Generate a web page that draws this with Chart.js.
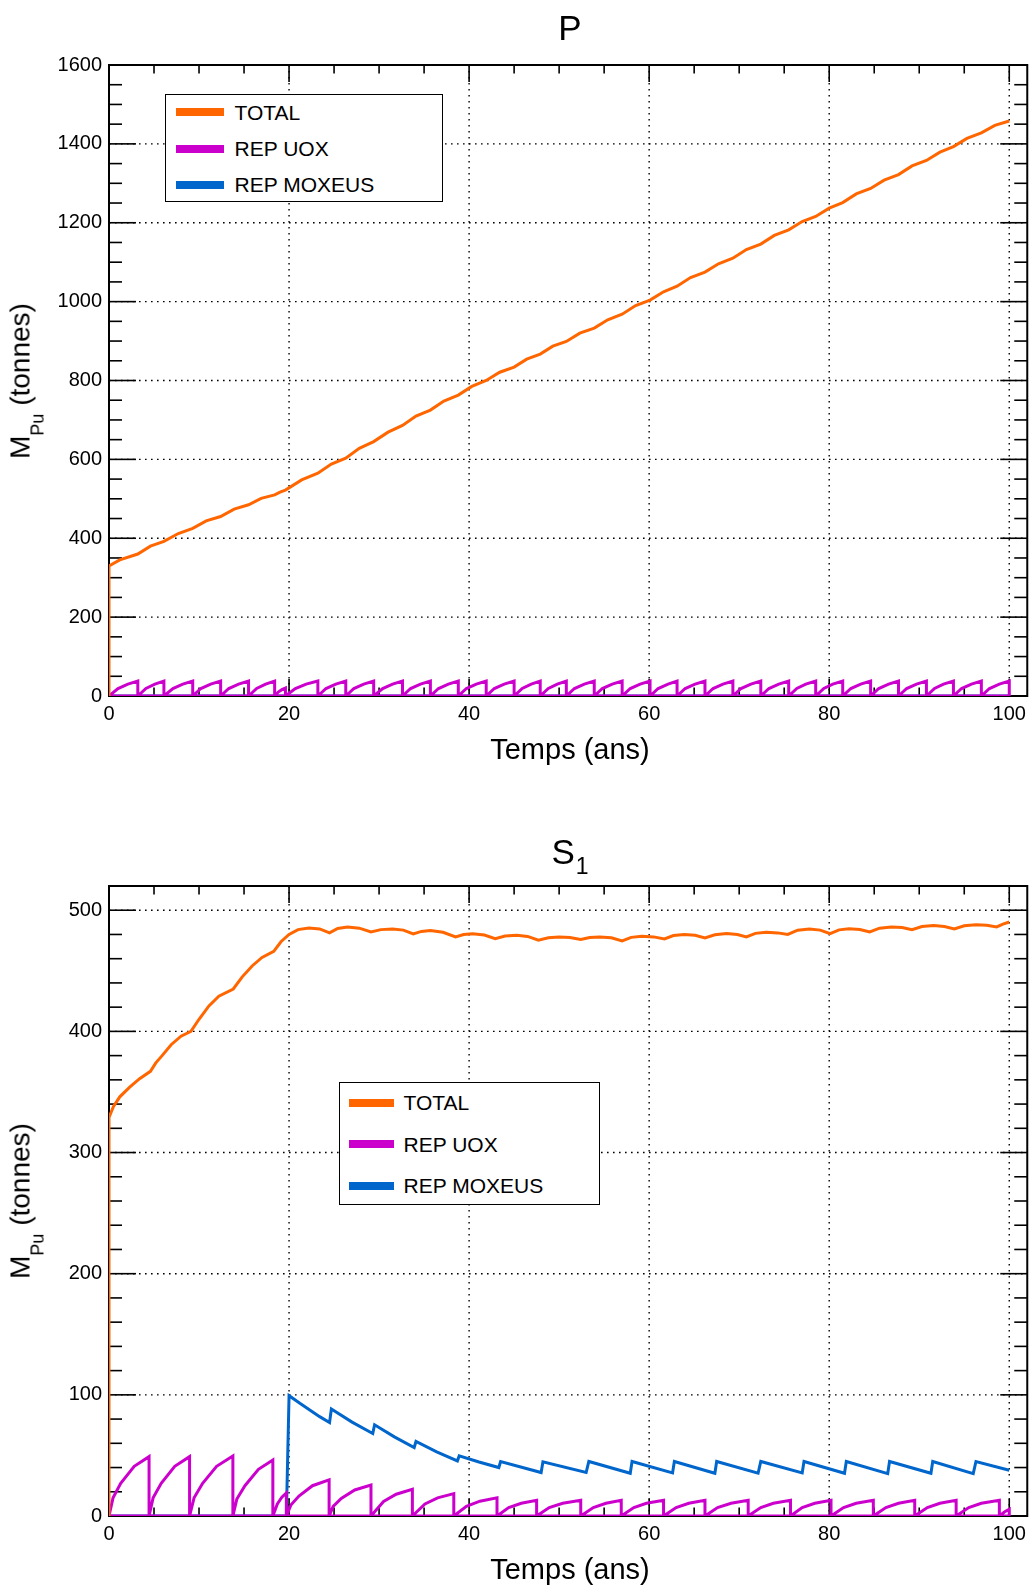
<!DOCTYPE html>
<html><head><meta charset="utf-8">
<script src="https://cdn.jsdelivr.net/npm/chart.js@4.4.1/dist/chart.umd.min.js"></script>
<style>
html,body{margin:0;padding:0;background:#fff;}
body{width:1032px;height:1586px;position:relative;overflow:hidden;font-family:"Liberation Sans",Arial,Helvetica,sans-serif;color:#000;}
canvas{position:absolute;left:0;}
.t{position:absolute;white-space:nowrap;line-height:1;}
.ctr{transform:translateX(-50%);}
.yt{font-size:28px;line-height:28px;transform:translate(-50%,-50%) rotate(-90deg);}
.yt sub{font-size:18px;vertical-align:-14px;line-height:0;}
.leg{position:absolute;border:1.5px solid #000;background:#fff;box-sizing:border-box;}
.sw{position:absolute;height:8px;}
.lt{position:absolute;font-size:21px;line-height:21px;white-space:nowrap;}
</style></head>
<body>
<canvas id="cP" width="1032" height="760" style="top:0"></canvas>
<canvas id="cS" width="1032" height="780" style="top:800px"></canvas>

<div class="t ctr" style="left:570px;top:10px;font-size:35px;">P</div>
<div class="t ctr" style="left:570px;top:834px;font-size:35px;">S<sub style="font-size:23px;vertical-align:-10px;line-height:0;margin-left:1px">1</sub></div>
<div class="t ctr" style="left:570px;top:735px;font-size:29px;">Temps (ans)</div>
<div class="t ctr" style="left:570px;top:1555px;font-size:29px;">Temps (ans)</div>
<div class="t yt" style="left:22.3px;top:380.5px;">M<sub>Pu</sub> (tonnes)</div>
<div class="t yt" style="left:22.3px;top:1201px;">M<sub>Pu</sub> (tonnes)</div>

<div class="leg" id="legP" style="left:165px;top:94px;width:278px;height:108px;"></div>
<div class="leg" id="legS" style="left:339px;top:1082px;width:261px;height:123px;"></div>

<script>
// ---------- data ----------
const seriesNames = ['TOTAL', 'REP UOX', 'REP MOXEUS'];
const seriesColors = ['#ff6600', '#cc00cc', '#0066cc'];

const xTicks = [0, 20, 40, 60, 80, 100];
const xTickLabels = ['0', '20', '40', '60', '80', '100'];
const pYTicks = [0, 200, 400, 600, 800, 1000, 1200, 1400, 1600];
const pYTickLabels = ['0', '200', '400', '600', '800', '1000', '1200', '1400', '1600'];
const sYTicks = [0, 100, 200, 300, 400, 500];
const sYTickLabels = ['0', '100', '200', '300', '400', '500'];

// Panel P : [time (ans), M_Pu (tonnes)]
const pTotal = [
[0,0],[0,330],[1.2,345],[3.2,360],[4.6,380],[6.1,392],[7.7,412],[9.3,425],[10.8,444],[12.4,455],
[13.9,474],[15.5,485],[16.9,501],[18.4,510],[19.0,517],[19.6,522],[21.4,548],[23.2,565],[24.7,588],
[26.3,603],[27.8,628],[29.4,645],[31.0,669],[32.6,686],[34.1,710],[35.7,725],[37.2,748],[38.8,763],
[40.3,785],[41.9,800],[43.4,821],[45.0,834],[46.4,854],[47.9,867],[49.3,887],[50.8,899],[52.3,920],
[53.9,933],[55.4,954],[57.0,968],[58.5,990],[60.1,1004],[61.6,1025],[63.1,1039],[64.6,1061],[66.2,1075],
[67.7,1096],[69.3,1110],[70.8,1132],[72.4,1146],[73.9,1168],[75.5,1182],[77.0,1203],[78.5,1216],
[80.0,1237],[81.5,1251],[83.0,1273],[84.6,1287],[86.1,1308],[87.7,1322],[89.2,1344],[90.8,1358],
[92.3,1379],[93.8,1393],[95.3,1414],[96.9,1428],[98.4,1447],[100,1458]
];
const pUox = [
[0,0],[1.0,19],[2.1,30],[3.2,38],[3.2,0],
[4.1,19],[5.1,30],[6.1,38],[6.1,0],
[7.1,19],[8.2,30],[9.3,38],[9.3,0],
[10.2,19],[11.3,30],[12.4,38],[12.4,0],
[13.3,19],[14.4,30],[15.5,38],[15.5,0],
[16.4,19],[17.4,30],[18.4,38],[18.4,0],
[18.8,10],[19.2,16],[19.6,20],[19.6,0],
[20.7,19],[21.9,30],[23.2,38],[23.2,0],
[24.1,19],[25.2,30],[26.3,38],[26.3,0],
[27.2,19],[28.3,30],[29.4,38],[29.4,0],
[30.4,19],[31.5,30],[32.6,38],[32.6,0],
[33.5,19],[34.6,30],[35.7,38],[35.7,0],
[36.6,19],[37.7,30],[38.8,38],[38.8,0],
[39.7,19],[40.8,30],[41.9,38],[41.9,0],
[42.8,19],[43.9,30],[45.0,38],[45.0,0],
[45.9,19],[46.9,30],[47.9,38],[47.9,0],
[48.8,19],[49.8,30],[50.8,38],[50.8,0],
[51.7,19],[52.8,30],[53.9,38],[53.9,0],
[54.8,19],[55.9,30],[57.0,38],[57.0,0],
[57.9,19],[59.0,30],[60.1,38],[60.1,0],
[61.0,19],[62.1,30],[63.1,38],[63.1,0],
[64.0,19],[65.1,30],[66.2,38],[66.2,0],
[67.1,19],[68.2,30],[69.3,38],[69.3,0],
[70.2,19],[71.3,30],[72.4,38],[72.4,0],
[73.3,19],[74.4,30],[75.5,38],[75.5,0],
[76.4,19],[77.4,30],[78.5,38],[78.5,0],
[79.4,19],[80.4,30],[81.5,38],[81.5,0],
[82.4,19],[83.5,30],[84.6,38],[84.6,0],
[85.5,19],[86.6,30],[87.7,38],[87.7,0],
[88.6,19],[89.7,30],[90.8,38],[90.8,0],
[91.7,19],[92.7,30],[93.8,38],[93.8,0],
[94.7,19],[95.8,30],[96.9,38],[96.9,0],
[97.8,19],[98.9,30],[100,38],[100,0],
[0,0]
];
const pMox = [[0,0],[100,0]];

// Panel S1
const sTotal = [
[0,0],[0,329],[0.5,338],[1.2,346],[2.3,354],[3.4,361],[4.6,367],
[5.2,374],[5.9,380],[6.9,389],[8.0,396],[9.1,400],
[10.0,410],[11.1,421],[12.2,429],[13.8,435],
[14.8,445],[15.9,454],[17.0,461],[18.3,466],
[19.1,474],[20.0,480],[21.0,484],[22.2,485.4],[23.4,484.6],[24.5,481.3],
[25.4,485.0],[26.5,486.2],[27.8,485.2],[29.1,482.1],
[30.2,484.0],[31.5,484.6],[32.7,483.6],[33.8,480.5],
[34.7,482.5],[35.7,483.2],[37.1,481.8],[38.5,478],
[39.4,479.9],[40.4,480.5],[41.7,479.5],[42.9,476.6],
[44.0,478.7],[45.3,479.4],[46.5,478.4],[47.7,475.2],
[48.8,477.3],[50.0,478],[51.2,477.4],[52.4,475.8],
[53.4,477.4],[54.5,478],[55.8,477.2],[57.0,474.7],
[58.0,477.6],[59.2,478.6],[60.5,478.0],[61.7,476.3],
[62.7,479.1],[63.9,480],[65.1,479.3],[66.2,477.2],
[67.3,479.8],[68.6,480.7],[69.8,480.0],[70.8,478],
[71.8,480.9],[73.0,481.8],[74.3,481.3],[75.4,480],
[76.5,483.5],[77.8,484.6],[79.0,483.6],[80.1,480.7],
[81.1,483.8],[82.2,484.8],[83.4,484.1],[84.5,482.1],
[85.6,485.2],[86.9,486.2],[88.1,485.7],[89.2,484],
[90.3,486.5],[91.6,487.3],[92.8,486.6],[93.9,484.6],
[95.0,487.2],[96.3,488.1],[97.5,487.6],[98.6,486.2],
[99.3,488.5],[100,490.3]
];
const sUox = [
[0,0],[0.45,15],[1.3,27],[2.8,41],[4.45,49],[4.45,0],
[4.9,15],[5.8,27],[7.3,41],[8.95,49],[8.95,0],
[9.45,15],[10.4,27],[11.95,41],[13.76,49.6],[13.76,0],
[14.2,14],[15.1,25],[16.6,38.5],[18.2,46.3],[18.2,0],
[18.7,10],[19.2,15.5],[19.7,19],[19.7,0],
[20.2,9],[21.1,16.5],[22.6,25],[24.45,29.8],[24.45,0],
[24.9,8],[25.8,14.5],[27.3,21.5],[29.1,25.6],[29.1,0],
[30.5,12],[31.9,18],[33.7,22.1],[33.7,0],
[35.1,10],[36.5,15],[38.3,18.5],[38.3,0],
[39.7,8],[41.2,12.2],[43.1,15],[43.1,0],
[44.4,7],[45.8,10.5],[47.5,13],[47.5,0],
[48.9,7],[50.4,10.5],[52.4,13],[52.4,0],
[53.8,7],[55.2,10.5],[56.9,13],[56.9,0],
[58.3,7],[59.7,10.5],[61.6,13],[61.6,0],
[63.0,7],[64.4,10.5],[66.2,13],[66.2,0],
[67.6,7],[69.1,10.5],[71.0,13],[71.0,0],
[72.4,7],[73.8,10.5],[75.7,13],[75.7,0],
[77.0,7],[78.4,10.5],[80.2,13],[80.2,0],
[81.6,7],[83.0,10.5],[84.9,13],[84.9,0],
[86.3,7],[87.7,10.5],[89.5,13],[89.5,0],
[90.9,7],[92.3,10.5],[94.1,13],[94.1,0],
[95.5,7],[96.9,10.5],[98.9,13],[98.9,0],
[99.5,3.5],[100,5.5],[100,0],
[0,0]
];
const sMox = [
[0,0],[19.7,0],[20.0,99.3],[21.2,93],[22.3,87.5],[23.4,82],[24.5,77.2],
[24.7,88.3],[27.0,77.5],[29.3,68.1],
[29.5,75.3],[31.7,65.3],[33.9,56.5],
[34.1,61.5],[36.4,53],[38.7,45.5],
[38.9,49.6],[41.1,44.6],[43.3,40],
[43.5,45],[48.0,35.9],
[48.2,44.7],[53.0,35.9],
[53.3,45],[57.9,35.3],
[58.1,45],[62.6,35.6],
[62.8,45],[67.3,35.3],
[67.5,45],[72.1,35.3],
[72.4,45],[77.0,35.6],
[77.2,45],[81.7,35.3],
[81.9,45],[86.5,35],
[86.7,45],[91.3,35.3],
[91.5,45],[96.0,35],
[96.3,45],[100,37.8]
];

// ---------- rendering ----------
const FONT = "'Liberation Sans', Arial, Helvetica, sans-serif";

const framePlugin = {
  id: 'rootFrame',
  beforeDatasetsDraw(chart, args, o) {
    const ctx = chart.ctx, a = chart.chartArea, xs = chart.scales.x, ys = chart.scales.y;
    const line = (x1, y1, x2, y2) => { ctx.beginPath(); ctx.moveTo(x1, y1); ctx.lineTo(x2, y2); ctx.stroke(); };
    ctx.save();
    ctx.strokeStyle = '#000';
    ctx.lineWidth = 1.4;
    ctx.setLineDash([1.6, 4.4]);
    xs.ticks.forEach(t => {
      const px = xs.getPixelForValue(t.value);
      if (px - a.left > 2 && a.right - px > 2) line(px, a.top, px, a.bottom);
    });
    ys.ticks.forEach(t => {
      const py = ys.getPixelForValue(t.value);
      if (py - a.top > 2 && a.bottom - py > 2) line(a.left, py, a.right, py);
    });
    ctx.setLineDash([]);
    ctx.lineWidth = 1.6;
    const isMajor = (v, step) => Math.abs(v / step - Math.round(v / step)) < 1e-6;
    for (let i = 0; ; i++) {
      const v = xs.min + i * o.xMinor;
      if (v > xs.max + 1e-9) break;
      const px = xs.getPixelForValue(v);
      const L = isMajor(v, o.xMajor) ? 17 : 8.5;
      line(px, a.bottom, px, a.bottom - L);
      line(px, a.top, px, a.top + L);
    }
    for (let i = 0; ; i++) {
      const v = ys.min + i * o.yMinor;
      if (v > ys.max + 1e-9) break;
      const py = ys.getPixelForValue(v);
      const L = isMajor(v, o.yMajor) ? 27 : 13;
      line(a.left, py, a.left + L, py);
      line(a.right, py, a.right - L, py);
    }
    ctx.lineWidth = 2;
    ctx.strokeRect(a.left, a.top, a.right - a.left, a.bottom - a.top);
    ctx.restore();
  }
};

function makeDatasets(total, uox, mox) {
  return [total, uox, mox].map((d, i) => ({
    label: seriesNames[i],
    data: d,
    borderColor: seriesColors[i],
    backgroundColor: seriesColors[i],
    borderWidth: 3,
    pointRadius: 0,
    tension: 0,
    fill: false
  }));
}

function build(id, datasets, yMax, yTicks, yLabels, yMajor, yMinor, padTop) {
  return new Chart(document.getElementById(id), {
    type: 'line',
    data: { datasets: datasets },
    options: {
      responsive: false,
      animation: false,
      devicePixelRatio: 1,
      events: [],
      layout: { padding: { top: padTop, right: 3, left: 0, bottom: 0 } },
      plugins: {
        legend: { display: false },
        tooltip: { enabled: false },
        title: { display: false },
        rootFrame: { xMajor: 20, xMinor: 5, yMajor: yMajor, yMinor: yMinor }
      },
      elements: { line: { borderJoinStyle: 'miter', borderCapStyle: 'butt' } },
      scales: {
        x: {
          type: 'linear', min: 0, max: 102,
          grid: { display: false, drawTicks: false, tickLength: 0 },
          border: { display: false },
          ticks: {
            includeBounds: false, autoSkip: false, maxRotation: 0, padding: 6,
            color: '#000', font: { family: FONT, size: 20 },
            callback: (v) => xTickLabels[xTicks.indexOf(v)]
          },
          afterBuildTicks: s => { s.ticks = xTicks.map(v => ({ value: v })); },
          afterFit: s => { s.height = 64; }
        },
        y: {
          type: 'linear', min: 0, max: yMax,
          grid: { display: false, drawTicks: false, tickLength: 0 },
          border: { display: false },
          ticks: {
            includeBounds: false, autoSkip: false, padding: 7,
            color: '#000', font: { family: FONT, size: 20 },
            callback: (v) => yLabels[yTicks.indexOf(v)]
          },
          afterBuildTicks: s => { s.ticks = yTicks.map(v => ({ value: v })); },
          afterFit: s => { s.width = 109; }
        }
      }
    },
    plugins: [framePlugin]
  });
}

build('cP', makeDatasets(pTotal, pUox, pMox), 1600, pYTicks, pYTickLabels, 200, 50, 65);
build('cS', makeDatasets(sTotal, sUox, sMox), 520, sYTicks, sYTickLabels, 100, 20, 86);

// ---------- legends (HTML text) ----------
function legend(id, rows, swLeft, swWidth, textLeft) {
  const box = document.getElementById(id);
  rows.forEach((cy, i) => {
    const sw = document.createElement('div');
    sw.className = 'sw';
    sw.style.left = swLeft + 'px';
    sw.style.width = swWidth + 'px';
    sw.style.top = (cy - 4) + 'px';
    sw.style.background = seriesColors[i];
    box.appendChild(sw);
    const tx = document.createElement('div');
    tx.className = 'lt';
    tx.style.left = textLeft + 'px';
    tx.style.top = (cy - 10.3) + 'px';
    tx.textContent = seriesNames[i];
    box.appendChild(tx);
  });
}
legend('legP', [16.8, 53.5, 89.5], 9.5, 48, 68.5);
legend('legS', [19.5, 61, 102.5], 8.5, 45, 63.5);
</script>
</body></html>
